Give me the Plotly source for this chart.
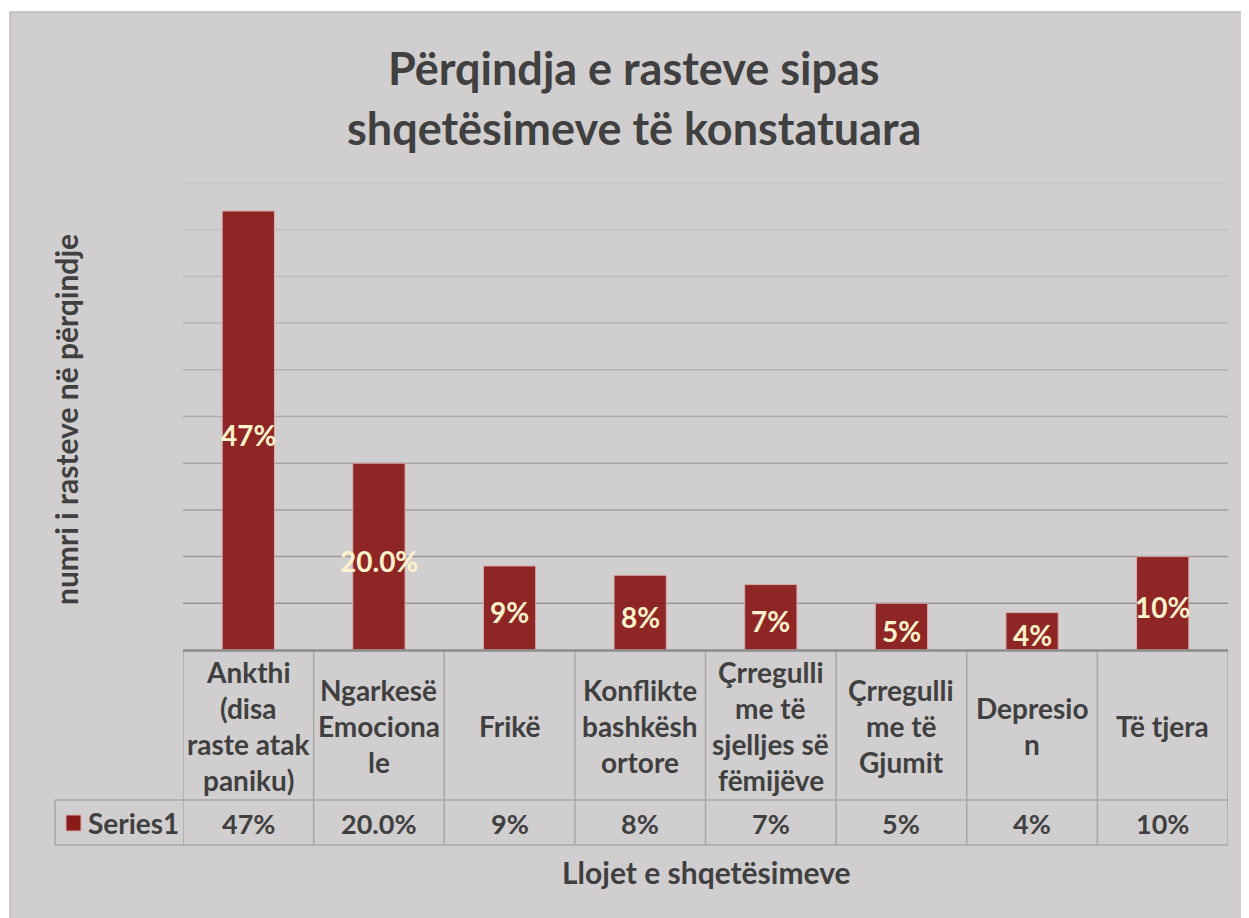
import plotly.graph_objects as go

# ---- data ----
categories = ["Ankthi (disa raste atak paniku)", "Ngarkesë Emocionale", "Frikë",
              "Konflikte bashkëshortore", "Çrregullime të sjelljes së fëmijëve",
              "Çrregullime të Gjumit", "Depresion", "Të tjera"]
category_lines = [
    ["Ankthi", "(disa", "raste atak", "paniku)"],
    ["Ngarkesë", "Emociona", "le"],
    ["Frikë"],
    ["Konflikte", "bashkësh", "ortore"],
    ["Çrregulli", "me të", "sjelljes së", "fëmijëve"],
    ["Çrregulli", "me të", "Gjumit"],
    ["Depresio", "n"],
    ["Të tjera"],
]
values = [47, 20.0, 9, 8, 7, 5, 4, 10]
value_labels = ["47%", "20.0%", "9%", "8%", "7%", "5%", "4%", "10%"]
series_name = "Series1"
grid_levels = [5, 10, 15, 20, 25, 30, 35, 40, 45, 50]

title_lines = ["Përqindja e rasteve sipas", "shqetësimeve të konstatuara"]
x_title = "Llojet e shqetësimeve"
y_title = "numri i rasteve në përqindje"

# ---- layout geometry (screen pixels; page body adds an 8px offset) ----
OFF = 8
SW, SH = 1249, 918
L, R, T, B = 183, 1228, 183, 650
W, H = R - L, B - T


def px(x):
    return (x - L) / W


def py(y):
    return (B - y) / H


FONT = "Lato"
TXT = "#404040"
BG = "#d0cecf"
LINE = "#a7a7a7"
CELL = 28

fig = go.Figure()
fig.add_trace(go.Bar(
    x=categories, y=values, width=0.4, name=series_name,
    marker=dict(color="#8b1a1a", line=dict(color="#dba9a9", width=1)),
    opacity=0.93, hoverinfo="skip", showlegend=False,
))

shapes = []
# chart area background with frame
shapes.append(dict(type="rect", xref="paper", yref="paper", layer="below",
                   x0=px(10), x1=px(1262), y0=py(930), y1=py(12),
                   fillcolor=BG, line=dict(color="#bcbcbc", width=1.5)))
# gridlines (lighter toward the top)
n = len(grid_levels)
for i, g in enumerate(grid_levels):
    c = int(150 + (200 - 150) * i / (n - 1))
    shapes.append(dict(type="line", xref="paper", yref="y", layer="below",
                       x0=0, x1=1, y0=g, y1=g,
                       line=dict(color=f"rgb({c},{c},{c})", width=1.5)))
# data table lines
for i in range(len(categories) + 1):
    shapes.append(dict(type="line", xref="x", yref="paper",
                       x0=i - 0.5, x1=i - 0.5, y0=py(650), y1=py(845),
                       line=dict(color=LINE, width=1.5)))
for yy in (800, 845):
    shapes.append(dict(type="line", xref="paper", yref="paper",
                       x0=px(55), x1=px(1228), y0=py(yy), y1=py(yy),
                       line=dict(color=LINE, width=1.5)))
shapes.append(dict(type="line", xref="paper", yref="paper",
                   x0=px(55), x1=px(55), y0=py(800), y1=py(845),
                   line=dict(color=LINE, width=1.5)))
# axis baseline
shapes.append(dict(type="line", xref="paper", yref="paper",
                   x0=0, x1=1, y0=py(650.5), y1=py(650.5),
                   line=dict(color="#8c8c8c", width=2.5)))
# legend key
shapes.append(dict(type="rect", xref="paper", yref="paper",
                   x0=px(66), x1=px(81), y0=py(831), y1=py(815),
                   fillcolor="#8b1a1a", line=dict(color="#dba9a9", width=1)))

ann = []
# data labels centred in the bars
for c, v, lab in zip(categories, values, value_labels):
    ann.append(dict(text=f"<b>{lab}</b>", xref="x", yref="y",
                    x=c, y=v / 2, yshift=-4, showarrow=False,
                    xanchor="center", yanchor="middle",
                    font=dict(family=FONT, size=28, color="#fff2cc")))
# title
for k, t in enumerate(title_lines):
    ann.append(dict(text=f"<b>{t}</b>", xref="paper", yref="paper",
                    x=px(634), y=py(68 + 60 * k), showarrow=False,
                    xanchor="center", yanchor="middle",
                    font=dict(family=FONT, size=45, color=TXT)))
# category cells
LS = 35.7
for i, lines in enumerate(category_lines):
    nl = len(lines)
    for k, ln in enumerate(lines):
        yc = 726 + (k - (nl - 1) / 2) * LS
        ann.append(dict(text=f"<b>{ln}</b>", xref="x", yref="paper",
                        x=i, y=py(yc), showarrow=False,
                        xanchor="center", yanchor="middle",
                        font=dict(family=FONT, size=CELL, color=TXT)))
# value row
for i, lab in enumerate(value_labels):
    ann.append(dict(text=f"<b>{lab}</b>", xref="x", yref="paper",
                    x=i, y=py(823), showarrow=False,
                    xanchor="center", yanchor="middle",
                    font=dict(family=FONT, size=27, color=TXT)))
ann.append(dict(text=f"<b>{series_name}</b>", xref="paper", yref="paper",
                x=px(86), y=py(823), showarrow=False,
                xanchor="left", yanchor="middle",
                font=dict(family=FONT, size=28, color=TXT)))
# axis titles
ann.append(dict(text=f"<b>{x_title}</b>", xref="paper", yref="paper",
                x=px(706), y=py(872), showarrow=False,
                xanchor="center", yanchor="middle",
                font=dict(family=FONT, size=30, color=TXT)))
ann.append(dict(text=f"<b>{y_title}</b>", xref="paper", yref="paper",
                x=px(66), y=py(420), showarrow=False, textangle=-90,
                xanchor="center", yanchor="middle",
                font=dict(family=FONT, size=30, color=TXT)))

fig.update_layout(
    width=SW - OFF, height=SH - OFF,
    margin=dict(l=L - OFF, r=SW - R, t=T - OFF, b=SH - B, pad=0),
    paper_bgcolor="white", plot_bgcolor="rgba(0,0,0,0)",
    shapes=shapes, annotations=ann, showlegend=False,
    xaxis=dict(showticklabels=False, showgrid=False, zeroline=False,
               showline=False, ticks="", range=[-0.5, len(categories) - 0.5]),
    yaxis=dict(range=[0, 50], showticklabels=False, showgrid=False,
               zeroline=False, showline=False, ticks=""),
    bargap=0.6,
)

fig.write_html("out.html")
